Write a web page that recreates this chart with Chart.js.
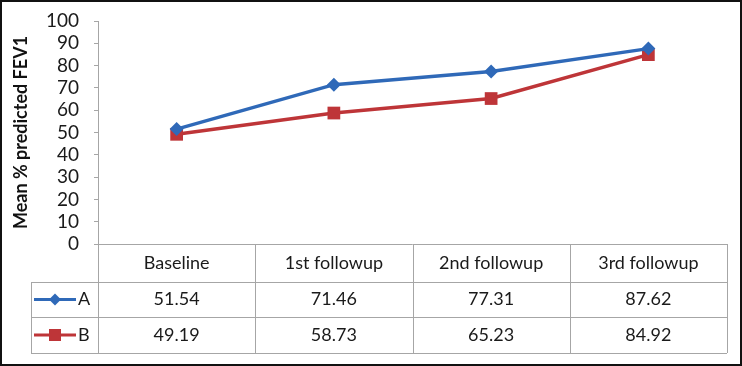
<!DOCTYPE html>
<html>
<head>
<meta charset="utf-8">
<script src="https://cdn.jsdelivr.net/npm/chart.js@4"></script>
<style>
  html, body { margin: 0; padding: 0; background: #fff; }
  #wrap { width: 742px; height: 366px; position: relative; }
</style>
</head>
<body>
<div id="wrap"><canvas id="myChart" width="742" height="366"></canvas></div>
<script>
// chart data
const categories = ['Baseline', '1st followup', '2nd followup', '3rd followup'];
const seriesNames = ['A', 'B'];
const valuesA = [51.54, 71.46, 77.31, 87.62];
const valuesB = [49.19, 58.73, 65.23, 84.92];
const yTicks = [0, 10, 20, 30, 40, 50, 60, 70, 80, 90, 100];

const blue = '#2f69b8';
const red = '#be3538';
const gridGray = '#a6a6a6';
const textColor = '#1a1a1a';
const fontFamily = 'Lato, "Open Sans", sans-serif';

// draws the data table under the plot, plus the outer frame
const dataTablePlugin = {
  id: 'dataTable',
  afterDraw(chart) {
    const ctx = chart.ctx;
    const area = chart.chartArea;
    const n = categories.length;
    const colW = (area.right - area.left) / n;
    const legendLeft = 31;
    const rowTop = area.bottom;
    const rowH = [38, 35, 36];
    const y1 = rowTop + rowH[0];
    const y2 = y1 + rowH[1];
    const y3 = y2 + rowH[2];

    ctx.save();
    ctx.strokeStyle = gridGray;
    ctx.lineWidth = 1;
    ctx.beginPath();
    // horizontal lines
    ctx.moveTo(area.left, rowTop + 0.5); ctx.lineTo(area.right, rowTop + 0.5);
    [y1, y2, y3].forEach(y => { ctx.moveTo(legendLeft, y + 0.5); ctx.lineTo(area.right, y + 0.5); });
    // vertical lines
    for (let i = 0; i <= n; i++) {
      const x = Math.round(area.left + colW * i) + 0.5;
      ctx.moveTo(x, rowTop); ctx.lineTo(x, y3);
    }
    ctx.moveTo(legendLeft + 0.5, y1); ctx.lineTo(legendLeft + 0.5, y3);
    ctx.stroke();

    // header and values
    ctx.fillStyle = textColor;
    ctx.font = '18px ' + fontFamily;
    ctx.textAlign = 'center';
    ctx.textBaseline = 'middle';
    const rows = [valuesA, valuesB];
    for (let i = 0; i < n; i++) {
      const cx = chart.scales.x.getPixelForValue(i);
      ctx.fillText(categories[i], cx, rowTop + rowH[0] / 2);
      ctx.fillText(rows[0][i].toFixed(2), cx, y1 + rowH[1] / 2);
      ctx.fillText(rows[1][i].toFixed(2), cx, y2 + rowH[2] / 2);
    }

    // legend keys
    const keyRows = [[y1 + rowH[1] / 2, blue, 'diamond'], [y2 + rowH[2] / 2, red, 'square']];
    keyRows.forEach((k, idx) => {
      const yy = k[0];
      ctx.strokeStyle = k[1];
      ctx.fillStyle = k[1];
      ctx.lineWidth = 3;
      ctx.beginPath();
      ctx.moveTo(34, yy); ctx.lineTo(76, yy);
      ctx.stroke();
      ctx.beginPath();
      if (k[2] === 'diamond') {
        ctx.moveTo(55, yy - 6); ctx.lineTo(61, yy); ctx.lineTo(55, yy + 6); ctx.lineTo(49, yy);
        ctx.closePath(); ctx.fill();
      } else {
        ctx.fillRect(49, yy - 6, 12, 12);
      }
      ctx.fillStyle = textColor;
      ctx.textAlign = 'left';
      ctx.fillText(seriesNames[idx], 78, yy);
    });

    // outer frame
    ctx.strokeStyle = '#111';
    ctx.lineWidth = 2;
    ctx.strokeRect(1, 1, chart.width - 2, chart.height - 2);
    ctx.restore();
  }
};

const myChart = document.getElementById('myChart');

let lineChart = new Chart(myChart, {
  type: 'line',
  data: {
    labels: categories,
    datasets: [{
      label: seriesNames[0],
      data: valuesA,
      borderColor: blue,
      backgroundColor: blue,
      borderWidth: 3.5,
      pointStyle: 'rectRot',
      pointRadius: 7,
      pointBorderWidth: 0,
      tension: 0
    }, {
      label: seriesNames[1],
      data: valuesB,
      borderColor: red,
      backgroundColor: red,
      borderWidth: 3.5,
      pointStyle: 'rect',
      pointRadius: 9,
      pointBorderWidth: 0,
      tension: 0
    }]
  },
  options: {
    responsive: false,
    animation: false,
    layout: { padding: { left: 0, top: 21, right: 15, bottom: 122 } },
    plugins: {
      legend: { display: false },
      tooltip: { enabled: false }
    },
    scales: {
      x: {
        type: 'category',
        offset: true,
        display: false
      },
      y: {
        min: 0,
        max: 100,
        afterBuildTicks(scale) {
          scale.ticks = yTicks.map(v => ({ value: v }));
        },
        afterFit(scale) {
          scale.width = 98;
          scale.paddingTop = 0;
          scale.paddingBottom = 0;
        },
        grid: {
          drawOnChartArea: false,
          color: gridGray,
          tickLength: 4
        },
        border: { color: gridGray, width: 1 },
        ticks: {
          autoSkip: false,
          color: textColor,
          font: { family: fontFamily, size: 19 },
          padding: 15
        },
        title: {
          display: true,
          text: 'Mean % predicted FEV1',
          color: '#111',
          font: { family: fontFamily, size: 18, weight: 'bold' },
          padding: { top: 10, bottom: 0 }
        }
      }
    }
  },
  plugins: [dataTablePlugin]
});
</script>
</body>
</html>
